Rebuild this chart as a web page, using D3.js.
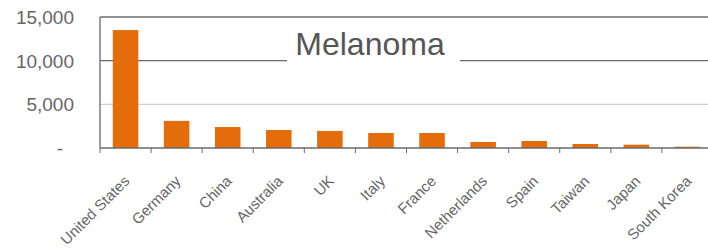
<!DOCTYPE html>
<html>
<head>
<meta charset="utf-8">
<script src="https://cdn.jsdelivr.net/npm/d3@7"></script>
<style>
  body { margin: 0; background: #fff; }
  svg { display: block; font-family: "Liberation Sans", Arial, sans-serif; }
</style>
</head>
<body>
<svg width="708" height="251"></svg>
<script>
var countries = ["United States", "Germany", "China", "Australia", "UK", "Italy", "France",
                 "Netherlands", "Spain", "Taiwan", "Japan", "South Korea"]
var cases = [13500, 3100, 2400, 2060, 1950, 1720, 1720, 690, 800, 460, 380, 150]
var yTicks = [0, 5000, 10000, 15000]
var title = "Melanoma"

var svg = d3.select("svg")
var plotL = 100, plotR = 713, plotT = 17, plotB = 148

var xScale = d3.scaleBand().domain(countries).range([plotL, plotR]).paddingInner(0.5).paddingOuter(0.25)
var yScale = d3.scaleLinear().domain([0, 15000]).range([plotB, plotT])

// gridlines
svg.selectAll("line.grid")
  .data(yTicks.filter(d => d > 0))
  .enter()
  .append("line")
  .attr("class", "grid")
  .attr("x1", plotL).attr("x2", 708)
  .attr("y1", d => yScale(d)).attr("y2", d => yScale(d))
  .style("stroke", d => d == 5000 ? "#d0d0d0" : "#6a6a6a")
  .style("stroke-width", 1.3)

// bars
svg.selectAll("rect.bar")
  .data(countries)
  .enter()
  .append("rect")
  .attr("class", "bar")
  .attr("x", d => xScale(d))
  .attr("width", xScale.bandwidth())
  .attr("y", (d, i) => yScale(cases[i]))
  .attr("height", (d, i) => plotB - yScale(cases[i]))
  .style("fill", "#e46c0a")

// title with white box breaking gridline
var tg = svg.append("g")
tg.append("rect").attr("x", 287).attr("y", 26).attr("width", 173).attr("height", 40).style("fill", "#fff")
tg.append("text")
  .attr("x", 370).attr("y", 55)
  .attr("text-anchor", "middle")
  .style("font-size", "32px")
  .style("fill", "#555")
  .text(title)

// y axis
svg.append("line").attr("x1", plotL).attr("x2", plotL).attr("y1", plotT).attr("y2", plotB)
  .style("stroke", "#6a6a6a").style("stroke-width", 1.3)
svg.selectAll("text.ylab")
  .data(yTicks)
  .enter()
  .append("text")
  .attr("class", "ylab")
  .attr("x", d => d == 0 ? 63 : 74)
  .attr("y", d => yScale(d) + 7)
  .attr("text-anchor", "end")
  .style("font-size", "19px")
  .style("fill", "#666")
  .text(d => d == 0 ? "-" : d3.format(",")(d))

// x axis
var step = xScale.step()
svg.append("line").attr("x1", plotL).attr("x2", 708).attr("y1", plotB).attr("y2", plotB)
  .style("stroke", "#6a6a6a").style("stroke-width", 1.3)
svg.selectAll("line.xtick")
  .data(d3.range(countries.length + 1))
  .enter()
  .append("line")
  .attr("class", "xtick")
  .attr("x1", i => plotL + i * step).attr("x2", i => plotL + i * step)
  .attr("y1", plotB).attr("y2", plotB + 5)
  .style("stroke", "#6a6a6a")

svg.selectAll("text.xlab")
  .data(countries)
  .enter()
  .append("text")
  .attr("class", "xlab")
  .attr("transform", d => "translate(" + (xScale(d) + xScale.bandwidth() / 2 + 5) + "," + (plotB + 34) + ") rotate(-45)")
  .attr("text-anchor", "end")
  .style("font-size", "15px")
  .style("fill", "#666")
  .text(d => d)
</script>
</body>
</html>
